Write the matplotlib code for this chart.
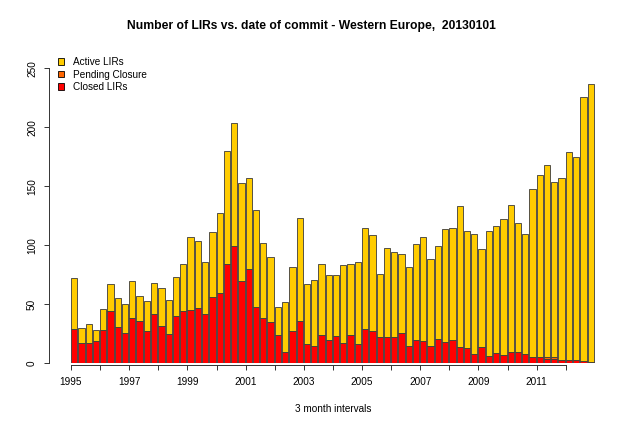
import matplotlib
matplotlib.use("Agg")
import matplotlib.pyplot as plt
from matplotlib.patches import Patch

plt.rcParams['font.family'] = ['Liberation Sans', 'DejaVu Sans']

# quarterly counts, 1995 Q1 .. 2012 Q4
total = [72, 30, 33, 28, 46, 67, 55, 50, 70, 57, 53, 68,
         64, 54, 73, 84, 107, 104, 86, 111, 127, 180, 204, 153,
         157, 130, 102, 90, 48, 52, 82, 123, 67, 71, 84, 75,
         75, 83, 84, 86, 115, 109, 76, 98, 94, 93, 82, 101,
         107, 88, 99, 114, 115, 133, 112, 110, 97, 112, 116, 122,
         134, 119, 110, 148, 160, 168, 154, 157, 179, 175, 226, 237]
closed = [29, 17, 17, 19, 28, 44, 31, 26, 38, 36, 27, 42,
          32, 25, 40, 44, 45, 47, 42, 56, 60, 84, 99, 70,
          80, 48, 38, 35, 24, 10, 27, 36, 16, 15, 24, 20,
          23, 17, 24, 16, 29, 27, 22, 22, 22, 26, 15, 20,
          19, 15, 21, 18, 20, 14, 13, 8, 14, 6, 9, 7,
          10, 10, 8, 5, 5, 4, 4, 3, 3, 3, 2, 1]
pending = [0] * 72
pending[65] = 1
pending[66] = 1
active = [t - c - p for t, c, p in zip(total, closed, pending)]

years = list(range(1995, 2013))
labels = [str(y) if y % 2 == 1 else '' for y in years]
x = [1995 + i * 0.25 for i in range(len(total))]

fig = plt.figure(figsize=(6.4, 4.26), dpi=100)
W, H = 640, 426
px_yr = 29.1
ax_l, ax_r = 49, 616
x0 = 1995 - (71 - ax_l) / px_yr
x1 = x0 + (ax_r - ax_l) / px_yr
y_zero, px_unit, ytop = 363.3, 1.18, 256
ax = fig.add_axes([ax_l / W, (H - y_zero) / H, (ax_r - ax_l) / W, ytop * px_unit / H])

yellow, orange, red = '#FFCC00', '#FF6600', '#FF0000'
ec = '#3a3a3a'
w = 0.216
bot2 = [c + p for c, p in zip(closed, pending)]
ax.bar(x, closed, width=w, align='edge', color=red, edgecolor=ec, linewidth=0.6)
ax.bar(x, pending, width=w, align='edge', bottom=closed, color=orange, edgecolor=ec, linewidth=0.6)
ax.bar(x, active, width=w, align='edge', bottom=bot2, color=yellow, edgecolor=ec, linewidth=0.6)

ax.set_xlim(x0, x1)
ax.set_ylim(0, ytop)
for s in ['top', 'right']:
    ax.spines[s].set_visible(False)
ax.spines['left'].set_bounds(0, 250)
ax.spines['bottom'].set_bounds(1995, 2012)
ax.spines['bottom'].set_position(('outward', 1))
for s in ['left', 'bottom']:
    ax.spines[s].set_linewidth(0.7)
    ax.spines[s].set_color('#333333')

ax.set_xticks(years)
ax.set_xticklabels(labels)
ax.set_yticks([0, 50, 100, 150, 200, 250])
ax.tick_params(axis='both', length=3.6, width=0.7, color='#333333', labelsize=7.2)
ax.tick_params(axis='x', pad=5.5)
ax.tick_params(axis='y', pad=5)
for t in ax.get_yticklabels():
    t.set_rotation(90)
    t.set_va('center')

fig.text(311.7 / W, 1 - 26 / H, 'Number of LIRs vs. date of commit - Western Europe,  20130101',
         ha='center', va='center', fontsize=8.75, fontweight='bold')
fig.text(333 / W, 1 - 409 / H, '3 month intervals', ha='center', va='center', fontsize=7.2)

handles = [Patch(facecolor=yellow, edgecolor='black', linewidth=0.6),
           Patch(facecolor=orange, edgecolor='black', linewidth=0.6),
           Patch(facecolor=red, edgecolor='black', linewidth=0.6)]
fig.legend(handles, ['Active LIRs', 'Pending Closure', 'Closed LIRs'],
           loc='upper left', bbox_to_anchor=(58 / W, 1 - 57 / H), frameon=False,
           fontsize=7.2, handlelength=0.6, handleheight=0.6, handletextpad=0.9,
           labelspacing=0.25, borderpad=0, borderaxespad=0)

fig.savefig('out.png', dpi=100)
